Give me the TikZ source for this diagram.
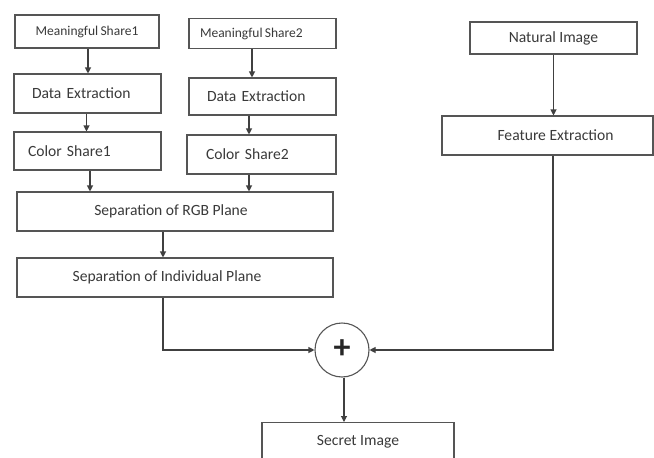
\documentclass[tikz,border=0pt]{standalone}
\usepackage{fontspec}
\setmainfont{Carlito}
\usetikzlibrary{arrows.meta}
\definecolor{linec}{HTML}{555555}
\definecolor{txtc}{HTML}{3A3A3A}
\tikzset{
  box/.style={draw=linec, line width=1.1pt, rectangle, inner sep=0pt, text=txtc,
    font=\fontsize{15.6}{17}\selectfont},
  lbox/.style={box, align=left},
  small/.style={font=\fontsize{13.5}{15}\selectfont},
  conn/.style={draw=black!75, line width=1.1pt},
  arr/.style={conn, -{Triangle[length=6pt,width=6pt]}}
}
\begin{document}
\begin{tikzpicture}[x=1pt,y=-1pt]
\clip (0,0) rectangle (654,458);
\fill[white] (0,0) rectangle (654,458);
% left column
\node[box, small, minimum width=144pt, minimum height=33pt] (ms1) at (87,31.5) {Meaningful\,Share1};
\node[lbox, text width=111pt, inner xsep=18pt, minimum height=39pt] (de1) at (87.5,93.5) {Data Extraction};
\node[lbox, text width=119pt, inner xsep=14pt, minimum height=38pt] (cs1) at (87.5,151) {Color Share1};
% middle column
\node[lbox, small, text width=125pt, inner xsep=11pt, minimum height=30pt] (ms2) at (262.5,33.5) {Meaningful\,Share2};
\node[lbox, text width=111pt, inner xsep=18pt, minimum height=37pt] (de2) at (262.5,96.5) {Data Extraction};
\node[lbox, text width=111pt, inner xsep=19pt, minimum height=39pt] (cs2) at (261.5,154.5) {Color Share2};
% wide boxes
\node[box, minimum width=316pt, minimum height=39pt] (rgb) at (175,211.5) {\hspace*{-8pt}Separation of RGB Plane};
\node[box, minimum width=316pt, minimum height=39pt] (ind) at (175,277.5) {\hspace*{-16pt}Separation of Individual Plane};
% right column
\node[box, minimum width=167pt, minimum height=32pt] (ni) at (553.5,38) {Natural Image};
\node[box, minimum width=211pt, minimum height=39pt] (fe) at (547.5,135.5) {\hspace*{16pt}Feature Extraction};
% adder and output
\node[circle, draw=linec, line width=1.1pt, minimum size=54pt, inner sep=0pt,
  font=\fontsize{34}{34}\selectfont\bfseries, text=black!85] (add) at (342,350) {\raisebox{1pt}{+}};
\node[box, minimum width=192pt, minimum height=44pt, anchor=north] (si) at (358,422) {\raisebox{8pt}{Secret Image}};
% connectors
\draw[arr] ([xshift=1pt]ms1.south) -- ([xshift=1pt]ms1.south |- de1.north);
\draw[arr] ([xshift=-1pt]de1.south) -- ([xshift=-1pt]de1.south |- cs1.north);
\draw[arr] ([xshift=2.5pt]cs1.south) -- ([xshift=2.5pt]cs1.south |- rgb.north);
\draw[arr] ([xshift=-10.5pt]ms2.south) -- ([xshift=-10.5pt]ms2.south |- de2.north);
\draw[arr] ([xshift=-13.5pt]de2.south) -- ([xshift=-13.5pt]de2.south |- cs2.north);
\draw[arr] ([xshift=-12.5pt]cs2.south) -- ([xshift=-12.5pt]cs2.south |- rgb.north);
\draw[arr] ([xshift=-12pt]rgb.south) -- ([xshift=-12pt]rgb.south |- ind.north);
\draw[arr] ([xshift=-12pt]ind.south) |- (add.west);
\draw[arr] (ni.south) -- (ni.south |- fe.north);
\draw[arr] ([xshift=5.5pt]fe.south) |- (add.east);
\draw[arr] ([xshift=2pt]add.south) -- ([xshift=2pt]add.south |- si.north);
\end{tikzpicture}
\end{document}
